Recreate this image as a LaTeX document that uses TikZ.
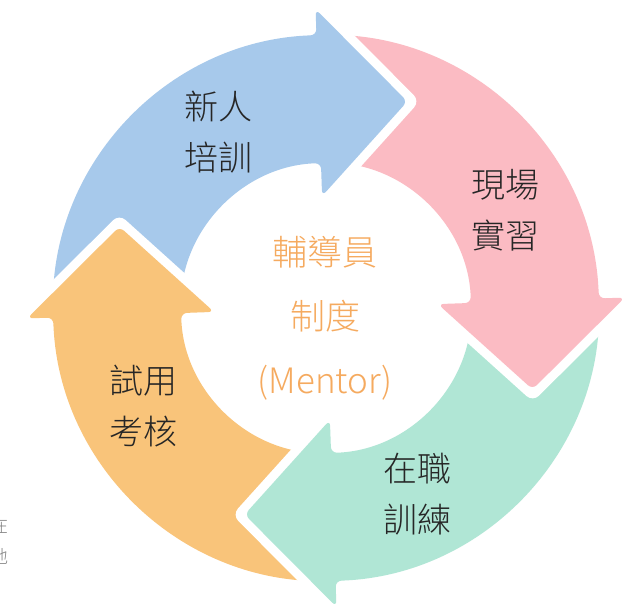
\documentclass[tikz,border=0pt]{standalone}
\usepackage{fontspec}
\usepackage{xcolor}
\usepackage{tikz}
\newfontfamily\cjk{Noto Sans CJK TC Light}

\definecolor{azul}{RGB}{167,201,235}
\definecolor{rosa}{RGB}{251,187,195}
\definecolor{verde}{RGB}{176,230,213}
\definecolor{laranja}{RGB}{249,196,122}
\definecolor{textolaranja}{RGB}{245,170,95}

% Seta curva: cauda, base da ponta, ponta
\newcommand{\setaciclo}[3]{(#1:145) arc[start angle=#1, end angle=#2, radius=145] -- (#2:112) -- (#3:222) -- (#2:299) -- (#2:273) arc[start angle=#2, end angle=#1, radius=273] -- cycle}
\newcommand{\desenhaseta}[4]{%
  \draw[white, line width=18, line join=round] \setaciclo{#2}{#3}{#4};
  \fill[#1, rounded corners=6] \setaciclo{#2}{#3}{#4};}

\tikzset{
  rotulo/.style={font=\cjk\fontsize{34}{51}\selectfont, align=center, text=black!85},
  centro/.style={font=\cjk\fontsize{35}{64}\selectfont, align=center, text=textolaranja}
}

\begin{document}
\begin{tikzpicture}[x=1pt, y=1pt]
\useasboundingbox (0,0) rectangle (628,603);

% Setas do ciclo
\begin{scope}[shift={(326,295)}]
\desenhaseta{laranja}{271}{182}{158.5}
\desenhaseta{verde}{1}{-88}{-111.5}
\desenhaseta{rosa}{91}{2}{-21.5}
\desenhaseta{azul}{181}{92}{68.5}
\end{scope}

% Ponta laranja por cima da cauda azul
\begin{scope}
\clip (0,223) rectangle (300,603);
\begin{scope}[shift={(326,295)}]
\desenhaseta{laranja}{271}{182}{158.5}
\end{scope}
\end{scope}

% Rotulos
\node[rotulo] (treino) at (218,471) {新人\\培訓};
\node[rotulo] (estagio) at (505,393) {現場\\實習};
\node[rotulo] (formacao) at (417,109) {在職\\訓練};
\node[rotulo] (avaliacao) at (143,197) {試用\\考核};

% Centro
\node[centro] (mentor) at (325,285) {輔導員\\制度\\(Mentor)};

% Texto cortado na margem
\node[font=\cjk\fontsize{18}{20}\selectfont, text=gray, anchor=east, inner sep=0] (margem1) at (9,77) {在};
\node[font=\cjk\fontsize{18}{20}\selectfont, text=gray, anchor=east, inner sep=0] (margem2) at (9,47) {地};

\end{tikzpicture}
\end{document}
